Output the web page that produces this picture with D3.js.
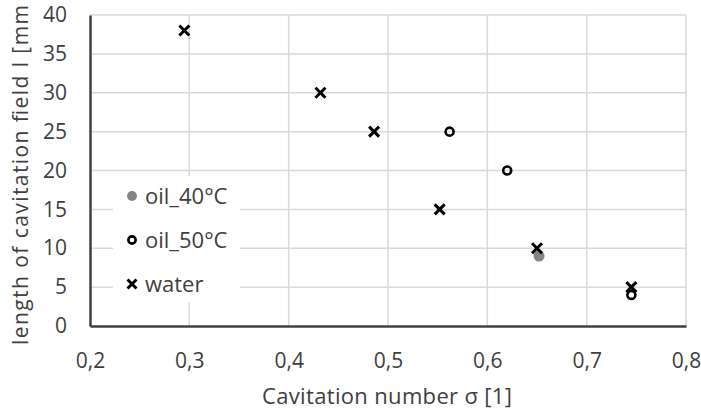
<!DOCTYPE html>
<html>
<head>
<meta charset="utf-8">
<script src="https://cdn.jsdelivr.net/npm/d3@7"></script>
<style>
body { margin: 0; background: #fff; }
text { font-family: "Open Sans", "Liberation Sans", sans-serif; fill: #404040; }
</style>
</head>
<body>
<svg id="chart" width="701" height="413"></svg>
<script>
// values
var oil40X = [0.652];
var oil40Y = [9];
var oil50X = [0.562, 0.620, 0.745];
var oil50Y = [25, 20, 4];
var waterX = [0.295, 0.432, 0.486, 0.552, 0.650, 0.745];
var waterY = [38, 30, 25, 15, 10, 5];
var xTicks = [0.2, 0.3, 0.4, 0.5, 0.6, 0.7, 0.8];
var yTicks = [0, 5, 10, 15, 20, 25, 30, 35, 40];
var legendNames = ['oil_40°C', 'oil_50°C', 'water'];

var svg = d3.select('#chart');

var x = d3.scaleLinear().domain([0.2, 0.8]).range([90, 686]);
var y = d3.scaleLinear().domain([0, 40]).range([326, 15]);

var fmt = function(d){ return d.toFixed(1).replace('.', ','); };

// grid
svg.append('g').selectAll('line.h')
	.data(yTicks.slice(1))
	.enter().append('line')
	.attr('x1', x(0.2)).attr('x2', x(0.8))
	.attr('y1', function(d){ return y(d); })
	.attr('y2', function(d){ return y(d); })
	.style('stroke', '#d9d9d9').style('stroke-width', 1.5);

svg.append('g').selectAll('line.v')
	.data(xTicks.slice(1))
	.enter().append('line')
	.attr('x1', function(d){ return x(d); })
	.attr('x2', function(d){ return x(d); })
	.attr('y1', y(0)).attr('y2', y(40))
	.style('stroke', '#d9d9d9').style('stroke-width', 1.5);

// axes
var xAxis = svg.append('g').attr('transform', 'translate(0,' + y(0) + ')')
	.call(d3.axisBottom(x).tickValues(xTicks).tickFormat(fmt).tickSize(0).tickPadding(27));
var yAxis = svg.append('g').attr('transform', 'translate(' + x(0.2) + ',0)')
	.call(d3.axisLeft(y).tickValues(yTicks).tickSize(0).tickPadding(23));

[xAxis, yAxis].forEach(function(a){
	a.select('.domain').style('stroke', '#404040').style('stroke-width', 2.5);
	a.selectAll('text').style('font-size', '21px').style('font-family', '"Open Sans", sans-serif').style('fill', '#404040');
});

// axis titles
svg.append('text')
	.attr('x', 387).attr('y', 404)
	.attr('text-anchor', 'middle')
	.attr('textLength', 250).attr('lengthAdjust', 'spacing')
	.style('font-size', '22px')
	.text('Cavitation number σ [1]');

svg.append('text')
	.attr('transform', 'translate(28,175) rotate(-90)')
	.attr('text-anchor', 'middle')
	.attr('textLength', 340).attr('lengthAdjust', 'spacing')
	.style('font-size', '21px')
	.text('length of cavitation field l  [mm');

// marks
var crossPath = function(s){
	return 'M' + (-s) + ',' + (-s) + 'L' + s + ',' + s + 'M' + (-s) + ',' + s + 'L' + s + ',' + (-s);
};

svg.append('g').selectAll('circle')
	.data(oil40X)
	.enter().append('circle')
	.attr('cx', function(d){ return x(d); })
	.attr('cy', function(d, i){ return y(oil40Y[i]); })
	.attr('r', 5.5)
	.style('fill', '#858585');

svg.append('g').selectAll('circle')
	.data(oil50X)
	.enter().append('circle')
	.attr('cx', function(d){ return x(d); })
	.attr('cy', function(d, i){ return y(oil50Y[i]); })
	.attr('r', 4)
	.style('fill', 'none').style('stroke', '#000').style('stroke-width', 2.6);

svg.append('g').selectAll('path')
	.data(waterX)
	.enter().append('path')
	.attr('transform', function(d, i){ return 'translate(' + x(d) + ',' + y(waterY[i]) + ')'; })
	.attr('d', crossPath(5))
	.style('fill', 'none').style('stroke', '#000').style('stroke-width', 3);

// legend
var legend = svg.append('g');
legend.append('rect')
	.attr('x', 113).attr('y', 176).attr('width', 127).attr('height', 126)
	.style('fill', '#fff');

var items = legend.selectAll('g.item')
	.data(legendNames)
	.enter().append('g')
	.attr('transform', function(d, i){ return 'translate(132,' + (196 + i * 44) + ')'; });

items.append('text')
	.attr('x', 13).attr('y', 8)
	.style('font-size', '22px')
	.text(function(d){ return d; });

items.filter(function(d, i){ return i === 0; }).append('circle')
	.attr('r', 5).style('fill', '#858585');
items.filter(function(d, i){ return i === 1; }).append('circle')
	.attr('r', 3.6).style('fill', 'none').style('stroke', '#000').style('stroke-width', 2.6);
items.filter(function(d, i){ return i === 2; }).append('path')
	.attr('d', crossPath(4.5))
	.style('fill', 'none').style('stroke', '#000').style('stroke-width', 3);
</script>
</body>
</html>
